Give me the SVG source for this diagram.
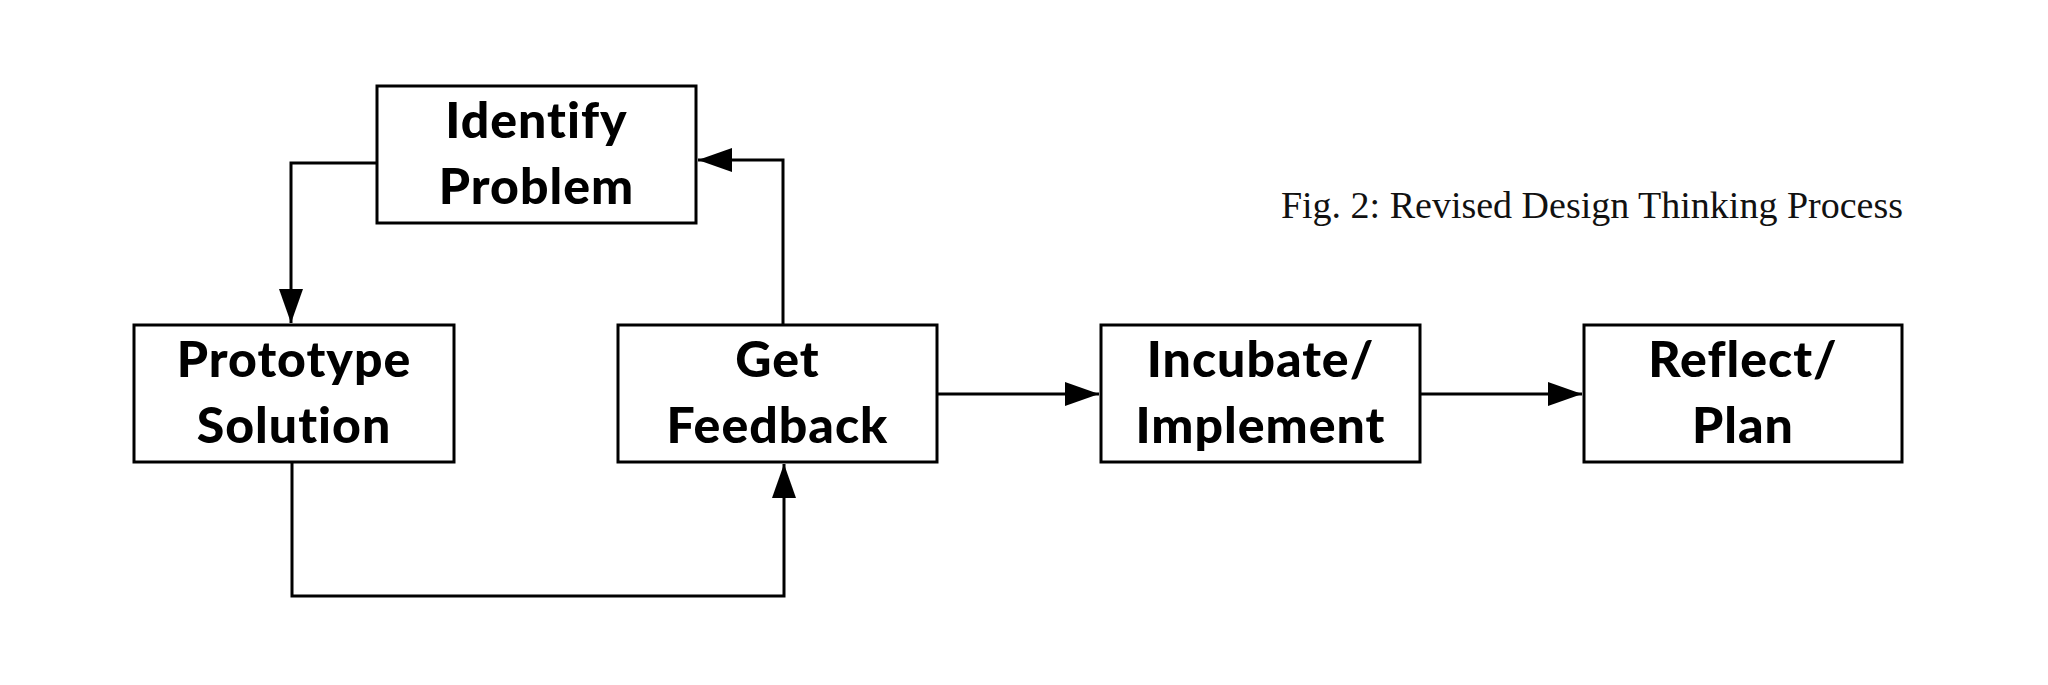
<svg xmlns="http://www.w3.org/2000/svg" width="2048" height="685" viewBox="0 0 2048 685">
<style>
.box{fill:#fff;stroke:#000;stroke-width:3}
.lbl{font-family:Lato,"Liberation Sans",sans-serif;font-weight:900;font-size:50px;letter-spacing:1px;text-anchor:middle;fill:#000}
.con{fill:none;stroke:#000;stroke-width:3}
.cap{font-family:"Liberation Serif",serif;font-size:38px;text-anchor:end;fill:#111}
</style>
<defs>
<marker id="ah" viewBox="0 0 34 24" refX="34" refY="12" markerWidth="34" markerHeight="24" markerUnits="userSpaceOnUse" orient="auto">
<path d="M0,0 L34,12 L0,24 z" fill="#000"/>
</marker>
</defs>
<rect width="2048" height="685" fill="#fff"/>
<g id="connectors">
<path class="con" d="M377,163 H291 V323" marker-end="url(#ah)"/>
<path class="con" d="M783,325 V160 H698" marker-end="url(#ah)"/>
<path class="con" d="M292,462 V596 H784 V464" marker-end="url(#ah)"/>
<path class="con" d="M937,394 H1099" marker-end="url(#ah)"/>
<path class="con" d="M1420,394 H1582" marker-end="url(#ah)"/>
</g>
<g id="identify">
<rect class="box" x="377" y="86" width="319" height="137"/>
<text class="lbl" x="536.5" y="138">Identify</text>
<text class="lbl" x="536.5" y="204">Problem</text>
</g>
<g id="prototype">
<rect class="box" x="134" y="325" width="320" height="137"/>
<text class="lbl" x="294" y="377">Prototype</text>
<text class="lbl" x="294" y="443">Solution</text>
</g>
<g id="feedback">
<rect class="box" x="618" y="325" width="319" height="137"/>
<text class="lbl" x="777.5" y="377">Get</text>
<text class="lbl" x="777.5" y="443">Feedback</text>
</g>
<g id="incubate">
<rect class="box" x="1101" y="325" width="319" height="137"/>
<text class="lbl" x="1260.5" y="377">Incubate/</text>
<text class="lbl" x="1260.5" y="443">Implement</text>
</g>
<g id="reflect">
<rect class="box" x="1584" y="325" width="318" height="137"/>
<text class="lbl" x="1743" y="377">Reflect/</text>
<text class="lbl" x="1743" y="443">Plan</text>
</g>
<text class="cap" x="1903" y="218">Fig. 2: Revised Design Thinking Process</text>
</svg>
